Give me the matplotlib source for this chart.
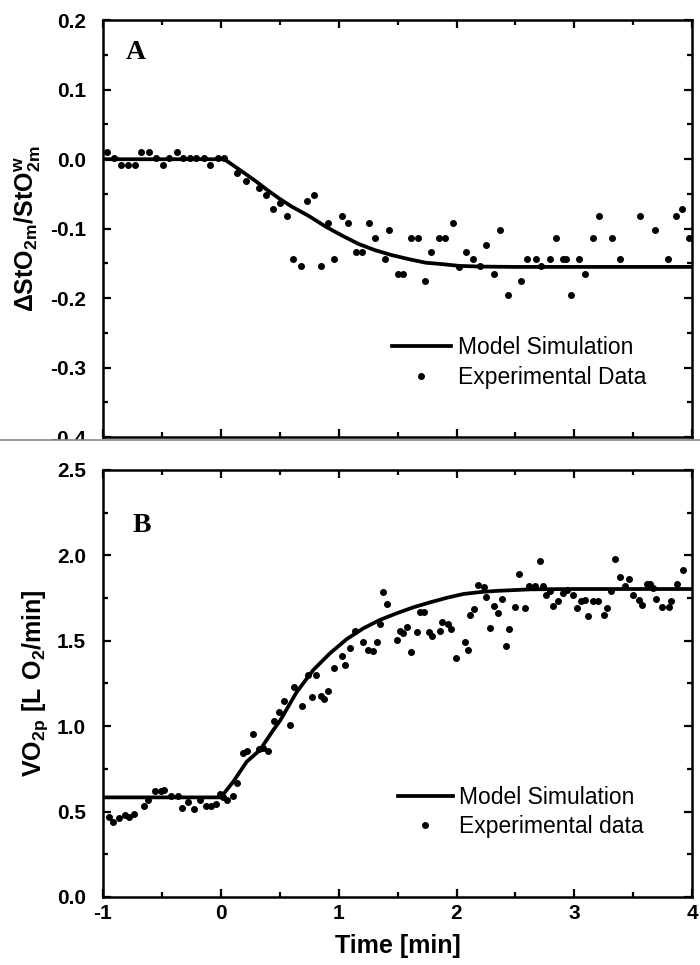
import numpy as np
import matplotlib
matplotlib.use('Agg')
import matplotlib.pyplot as plt
from matplotlib.lines import Line2D
from matplotlib.patches import Rectangle

plt.rcParams['font.family'] = ['Liberation Sans', 'DejaVu Sans']
plt.rcParams['mathtext.fontset'] = 'custom'
plt.rcParams['mathtext.rm'] = 'Liberation Sans'
plt.rcParams['mathtext.bf'] = 'Liberation Sans:bold'

# panel A : muscle oxygen saturation
stO2_model_t = [-1.0, 0.03, 0.09, 0.2, 0.3, 0.4, 0.5, 0.6, 0.75, 0.89, 1.03, 1.17,
                1.31, 1.45, 1.6, 1.74, 1.88, 2.02, 2.2, 2.5, 3.0, 4.0]
stO2_model_v = [0.0, 0.0, -0.007, -0.020, -0.032, -0.045, -0.057, -0.068, -0.082,
                -0.097, -0.110, -0.122, -0.131, -0.138, -0.144, -0.149, -0.151,
                -0.1535, -0.1545, -0.155, -0.155, -0.155]

stO2_data_t = [-0.963, -0.907, -0.85, -0.79, -0.73, -0.68, -0.61, -0.55, -0.49, -0.44,
               -0.375, -0.32, -0.26, -0.21, -0.14, -0.09, -0.02, 0.027, 0.14, 0.21,
               0.32, 0.38, 0.44, 0.50, 0.56, 0.61, 0.68, 0.73, 0.79, 0.85, 0.91, 0.96,
               1.03, 1.08, 1.15, 1.20, 1.26, 1.31, 1.39, 1.43, 1.50, 1.55, 1.61, 1.67,
               1.73, 1.78, 1.85, 1.90, 1.97, 2.02, 2.08, 2.14, 2.20, 2.25, 2.32, 2.37,
               2.44, 2.55, 2.60, 2.67, 2.72, 2.79, 2.84, 2.90, 2.93, 2.97, 3.04, 3.09,
               3.16, 3.21, 3.32, 3.39, 3.56, 3.68, 3.79, 3.86, 3.91, 3.97]
stO2_data_v = [0.011, 0.002, -0.009, -0.009, -0.009, 0.011, 0.011, 0.002, -0.009, 0.002,
               0.011, 0.002, 0.002, 0.002, 0.002, -0.009, 0.002, 0.002, -0.020, -0.031,
               -0.041, -0.052, -0.072, -0.063, -0.082, -0.144, -0.154, -0.060, -0.051,
               -0.154, -0.092, -0.144, -0.081, -0.092, -0.133, -0.133, -0.092, -0.113,
               -0.144, -0.102, -0.165, -0.165, -0.113, -0.113, -0.175, -0.133, -0.113,
               -0.113, -0.092, -0.155, -0.133, -0.144, -0.154, -0.123, -0.165, -0.102,
               -0.196, -0.175, -0.144, -0.144, -0.154, -0.144, -0.113, -0.144, -0.144,
               -0.196, -0.144, -0.165, -0.113, -0.081, -0.113, -0.144, -0.081, -0.102,
               -0.144, -0.081, -0.071, -0.113]

# panel B : pulmonary VO2
vo2_model_t = [-1.0, 0.0, 0.106, 0.22, 0.333, 0.446, 0.503, 0.644, 0.785, 0.927, 1.069,
               1.21, 1.35, 1.493, 1.634, 1.776, 1.92, 2.06, 2.2, 2.34, 2.625, 3.0, 4.0]
vo2_model_v = [0.583, 0.583, 0.675, 0.792, 0.861, 0.978, 1.032, 1.20, 1.329, 1.427, 1.51,
               1.573, 1.622, 1.661, 1.696, 1.725, 1.752, 1.774, 1.785, 1.792, 1.801,
               1.803, 1.803]

vo2_data_t = [-0.946, -0.912, -0.864, -0.813, -0.777, -0.734, -0.649, -0.615, -0.558,
              -0.51, -0.482, -0.426, -0.36, -0.327, -0.276, -0.228, -0.18, -0.126, -0.083,
              -0.04, -0.007, 0.016, 0.055, 0.106, 0.135, 0.19, 0.225, 0.276, 0.327, 0.36,
              0.40, 0.45, 0.496, 0.537, 0.59, 0.62, 0.69, 0.742, 0.777, 0.808, 0.848,
              0.877, 0.91, 0.96, 1.027, 1.057, 1.10, 1.135, 1.208, 1.246, 1.292, 1.322,
              1.347, 1.38, 1.407, 1.497, 1.519, 1.549, 1.576, 1.613, 1.663, 1.692, 1.727,
              1.765, 1.795, 1.86, 1.879, 1.928, 1.955, 1.992, 2.068, 2.098, 2.114, 2.152,
              2.182, 2.231, 2.25, 2.284, 2.314, 2.352, 2.383, 2.417, 2.447, 2.496, 2.53,
              2.58, 2.617, 2.663, 2.712, 2.731, 2.758, 2.795, 2.818, 2.864, 2.902, 2.94,
              2.985, 3.023, 3.053, 3.09, 3.114, 3.155, 3.197, 3.25, 3.28, 3.307, 3.348,
              3.383, 3.432, 3.462, 3.5, 3.545, 3.572, 3.614, 3.64, 3.667, 3.689, 3.746,
              3.8, 3.822, 3.867, 3.917]
vo2_data_v = [0.467, 0.441, 0.461, 0.480, 0.470, 0.484, 0.535, 0.568, 0.621, 0.622, 0.626,
              0.591, 0.591, 0.519, 0.554, 0.515, 0.568, 0.535, 0.535, 0.544, 0.603, 0.587,
              0.568, 0.593, 0.666, 0.841, 0.857, 0.954, 0.865, 0.870, 0.857, 1.032, 1.085,
              1.150, 1.007, 1.228, 1.118, 1.297, 1.172, 1.297, 1.175, 1.16, 1.206, 1.342,
              1.413, 1.356, 1.46, 1.556, 1.49, 1.448, 1.44, 1.49, 1.60, 1.785, 1.715, 1.503,
              1.557, 1.543, 1.579, 1.434, 1.553, 1.666, 1.666, 1.553, 1.527, 1.559, 1.612,
              1.596, 1.567, 1.399, 1.494, 1.444, 1.652, 1.685, 1.829, 1.813, 1.754, 1.577,
              1.701, 1.661, 1.746, 1.468, 1.569, 1.695, 1.892, 1.691, 1.819, 1.819, 1.967,
              1.819, 1.77, 1.79, 1.701, 1.73, 1.78, 1.8, 1.77, 1.691, 1.734, 1.74, 1.646,
              1.73, 1.73, 1.652, 1.691, 1.79, 1.981, 1.874, 1.819, 1.859, 1.77, 1.74, 1.711,
              1.833, 1.833, 1.809, 1.744, 1.695, 1.695, 1.734, 1.833, 1.914]

x_ticks = [-1, 0, 1, 2, 3, 4]
yA_ticks = [-0.4, -0.3, -0.2, -0.1, 0.0, 0.1, 0.2]
yB_ticks = [0.0, 0.5, 1.0, 1.5, 2.0, 2.5]


def style_axes(ax):
    for s in ax.spines.values():
        s.set_linewidth(1.8)
    ax.tick_params(which='both', direction='in', top=True, right=True, width=1.6)
    ax.tick_params(which='major', length=6, labelsize=15, pad=12)
    ax.tick_params(which='minor', length=3.5)
    for lab in ax.get_xticklabels() + ax.get_yticklabels():
        lab.set_fontweight('bold')


fig = plt.figure(figsize=(7, 9.65), dpi=100)
axA = fig.add_axes([0.147, 0.547, 0.842, 0.432])
axB = fig.add_axes([0.147, 0.0705, 0.842, 0.4425])

# panel A
axA.plot(stO2_model_t, stO2_model_v, color='black', lw=2.7, label='Model Simulation')
axA.plot(stO2_data_t, stO2_data_v, 'o', color='black', ms=4, ls='none',
         label='Experimental Data')
axA.set_xlim(-1, 4)
axA.set_ylim(-0.4, 0.2)
axA.set_xticks(x_ticks)
axA.set_xticks(np.arange(-1, 4.01, 0.5), minor=True)
axA.set_yticks(yA_ticks)
axA.set_yticks(np.arange(-0.4, 0.201, 0.05), minor=True)
axA.set_yticklabels(['%.1f' % v for v in yA_ticks])
axA.tick_params(labelbottom=False)
style_axes(axA)
axA.set_ylabel(r'$\mathbf{\Delta StO_{2m}/StO^{w}_{2m}}$', fontsize=18, labelpad=5)
axA.text(0.039, 0.952, 'A', transform=axA.transAxes, fontsize=20, fontweight='bold',
         family='Liberation Serif', va='top', ha='left')
axA.legend(loc='center left', bbox_to_anchor=(0.49, 0.18), frameon=False, fontsize=16.5,
           handlelength=2.6, handletextpad=0.3, labelspacing=0.3, borderpad=0,
           borderaxespad=0)

# panel B
axB.plot(vo2_model_t, vo2_model_v, color='black', lw=2.7, label='Model Simulation')
axB.plot(vo2_data_t, vo2_data_v, 'o', color='black', ms=4, ls='none',
         label='Experimental data')
axB.set_xlim(-1, 4)
axB.set_ylim(0, 2.5)
axB.set_xticks(x_ticks)
axB.set_xticks(np.arange(-1, 4.01, 0.5), minor=True)
axB.set_yticks(yB_ticks)
axB.set_yticks(np.arange(0, 2.51, 0.25), minor=True)
axB.set_yticklabels(['%.1f' % v for v in yB_ticks])
axB.set_xticklabels([str(v) for v in x_ticks])
style_axes(axB)
axB.tick_params(axis='x', pad=5)
axB.set_xlabel('Time [min]', fontsize=18, fontweight='bold', labelpad=8)
axB.set_ylabel(r'$\mathbf{VO_{2p}\ [L\ O_2/min]}$', fontsize=18, labelpad=5)
axB.text(0.051, 0.90, 'B', transform=axB.transAxes, fontsize=20, fontweight='bold',
         family='Liberation Serif', va='top', ha='left')
axB.legend(loc='center left', bbox_to_anchor=(0.50, 0.199), frameon=False, fontsize=16.5,
           handlelength=2.4, handletextpad=0.3, labelspacing=0.3, borderpad=0,
           borderaxespad=0)

# the two panels were cut apart in the source image
fig.add_artist(Rectangle((0, 1 - 461 / 965), 1, 21 / 965, transform=fig.transFigure,
                         facecolor='white', edgecolor='none', zorder=10))
fig.add_artist(Line2D([0, 1], [1 - 440 / 965] * 2, transform=fig.transFigure,
                      color='#888888', lw=1.2, zorder=11))

fig.savefig('out.png', dpi=100)
